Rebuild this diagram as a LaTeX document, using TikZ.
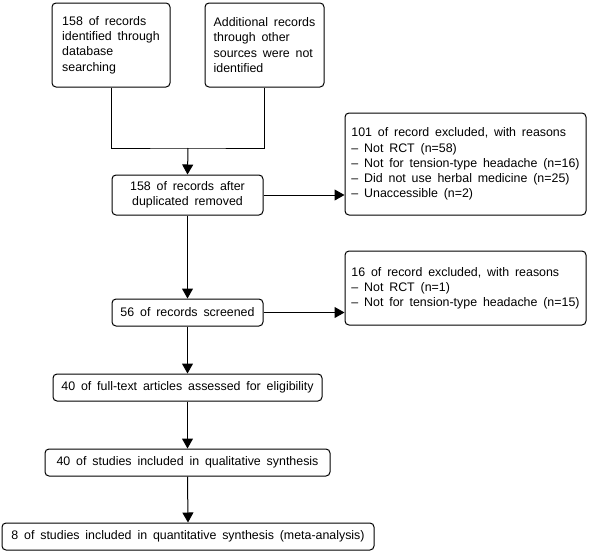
\documentclass[tikz,border=0pt]{standalone}
\usepackage{fontspec}
\setmainfont[WordSpace=1.7]{Liberation Sans}
\usetikzlibrary{arrows.meta}
\begin{document}
\begin{tikzpicture}[x=1pt,y=-1pt,
  box/.style={draw, line width=1pt, rounded corners=4pt, align=left, inner sep=0pt,
    font=\fontsize{12.4}{15.2}\selectfont},
  cbox/.style={box, align=center},
  arr/.style={line width=1pt, -{Triangle[width=11pt,length=10pt]}},
  con/.style={line width=1pt}]
\useasboundingbox (0,0) rectangle (589,552);
\node[box, minimum width=118pt, minimum height=84pt] (b1) at (111,45)
  {158 of records\\identified through\\database\\searching};
\node[box, minimum width=119pt, minimum height=84pt] (b2) at (264.5,45)
  {Additional records\\through other\\sources were not\\identified};
\node[cbox, minimum width=151pt, minimum height=40pt] (b3) at (187.5,195)
  {158 of records after\\duplicated removed};
\node[box, minimum width=241pt, minimum height=102pt] (b4) at (465.5,164)
  {101 of record excluded, with reasons\\– Not RCT (n=58)\\– Not for tension-type headache (n=16)\\– Did not use herbal medicine (n=25)\\– Unaccessible (n=2)};
\node[box, minimum width=241pt, minimum height=74pt] (b5) at (465.5,288)
  {16 of record excluded, with reasons\\– Not RCT (n=1)\\– Not for tension-type headache (n=15)};
\node[cbox, minimum width=151pt, minimum height=27pt] (b6) at (187.5,312.5)
  {56 of records screened};
\node[cbox, minimum width=269pt, minimum height=27pt] (b7) at (187.5,387.5)
  {40 of full-text articles assessed for eligibility};
\node[cbox, minimum width=285pt, minimum height=27pt] (b8) at (187.5,462.5)
  {40 of studies included in qualitative synthesis};
\node[cbox, minimum width=372pt, minimum height=27pt] (b9) at (188,536.5)
  {8 of studies included in quantitative synthesis (meta-analysis)};
\coordinate (j) at (188,148);
\draw[con] (b1.south) |- (j) -| (b2.south);
\draw[arr] (j) -- (b3.north);
\draw[arr] (b3.east) -- (b4.west |- b3.east);
\draw[arr] (b3.south) -- (b6.north);
\draw[arr] (b6.east) -- (b5.west |- b6.east);
\draw[arr] (b6.south) -- (b7.north);
\draw[arr] (b7.south) -- (b8.north);
\draw[arr] (b8.south) -- (b9.north);
\end{tikzpicture}
\end{document}
